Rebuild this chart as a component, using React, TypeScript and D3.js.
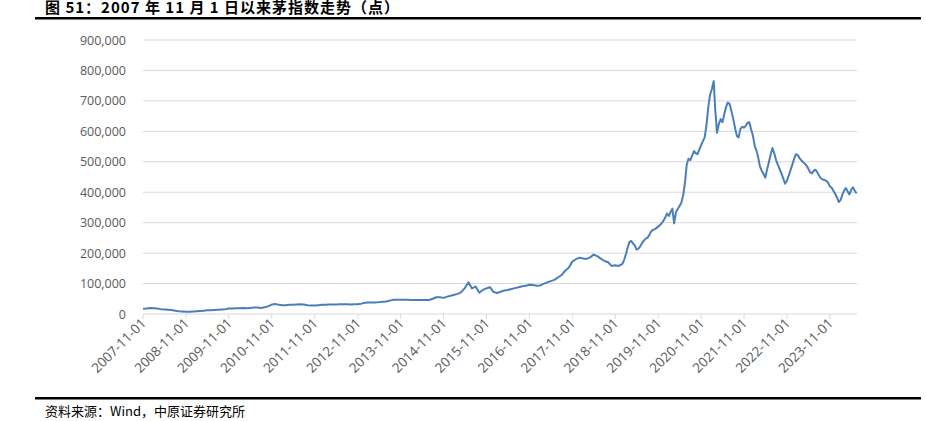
import * as d3 from "d3";

// monthly closes, 2007-11 .. 2018-12 (thousand points)
const monthlyStart = "2007-11-01";
const monthly2007to2012 = [
  17, 18, 20, 19, 18, 16, 15, 14, 13, 11, 9, 8,
  7, 7, 8, 9, 10, 11, 12, 12, 13, 14, 15, 16,
  18, 18, 19, 19, 20, 19, 20, 21, 21, 20, 22, 25,
  31, 33, 30, 29, 29, 30, 30, 31, 32, 31, 29, 28,
  28, 29, 30, 30, 31, 31, 31, 32, 32, 32, 31, 32,
];
const monthly2012to2018 = [
  32, 34, 37, 38, 38, 38, 39, 40, 41, 44, 47, 47,
  47, 47, 47, 46, 46, 46, 46, 46, 46, 50, 55, 55,
  53, 57, 60, 63, 66, 72, 85, 104, 84, 90, 70, 79,
  84, 88, 72, 69, 73, 77, 79, 82, 85, 88, 91, 93,
  96, 95, 93, 94, 99, 104, 108, 112, 120, 128, 142, 152,
  172, 180, 185, 182, 181, 186, 195, 190, 182, 174, 170, 158,
  160, 158,
];

// twice a month (1st and 16th), 2019-01 .. 2024-06
const halfMonthStart = "2019-01-01";
const halfMonthly2019to2020 = [
  165, 178, 198, 220, 236, 240, 232, 225, 212, 214, 222, 232,
  240, 247, 250, 258, 270, 276, 278, 282, 287, 292, 298, 306,
  318, 330, 322, 336, 346, 298, 335, 345, 355, 365, 390, 430,
  490, 510, 505, 520, 535, 528, 525, 540, 555, 568, 580, 620,
];
const halfMonthly2021to2022 = [
  680, 720, 740, 765, 670, 595, 625, 640, 630, 655, 680, 695,
  690, 668, 640, 612, 585, 580, 608, 615, 612, 618, 628, 630,
  605, 585, 550, 535, 515, 485, 470, 460, 448, 475, 500, 525,
  545, 528, 505, 490, 475, 460, 445, 428, 438, 455, 472, 490,
];
const halfMonthly2023to2024 = [
  510, 525, 522, 512, 506, 500, 494, 488, 478, 466, 462, 470,
  474, 466, 455, 446, 442, 440, 438, 432, 420, 415, 405, 395,
  382, 368, 375, 392, 405, 414, 402, 393, 408, 416, 404, 396,
];

const yTicks = [0, 100000, 200000, 300000, 400000, 500000, 600000, 700000, 800000, 900000];
const xTickLabels = [
  "2007-11-01", "2008-11-01", "2009-11-01", "2010-11-01", "2011-11-01", "2012-11-01",
  "2013-11-01", "2014-11-01", "2015-11-01", "2016-11-01", "2017-11-01", "2018-11-01",
  "2019-11-01", "2020-11-01", "2021-11-01", "2022-11-01", "2023-11-01",
];
const domainEnd = "2024-06-19";

const title = "图 51：2007 年 11 月 1 日以来茅指数走势（点）";
const source = "资料来源：Wind，中原证券研究所";

const width = 926;
const height = 421;
const plot = { left: 143, right: 857, top: 40, bottom: 314 };
const lineColor = "#4A7EBB";
const textColor = "#595959";

const parse = d3.timeParse("%Y-%m-%d");

function buildSeries() {
  const monthlyVals = [...monthly2007to2012, ...monthly2012to2018];
  const m0 = parse(monthlyStart)!;
  const pts: { date: Date; value: number }[] = monthlyVals.map((v, i) => ({
    date: d3.timeMonth.offset(m0, i),
    value: v * 1000,
  }));
  const halfVals = [...halfMonthly2019to2020, ...halfMonthly2021to2022, ...halfMonthly2023to2024];
  const h0 = parse(halfMonthStart)!;
  halfVals.forEach((v, i) => {
    const month = d3.timeMonth.offset(h0, Math.floor(i / 2));
    const date = i % 2 === 0 ? month : d3.timeDay.offset(month, 15);
    pts.push({ date, value: v * 1000 });
  });
  return pts;
}

export default function App() {
  const data = buildSeries();

  const x = d3
    .scaleTime()
    .domain([parse(monthlyStart)!, parse(domainEnd)!])
    .range([plot.left, plot.right]);
  const y = d3.scaleLinear().domain([0, 900000]).range([plot.bottom, plot.top]);

  const fmtNum = d3.format(",");

  const line = d3
    .line<{ date: Date; value: number }>()
    .x((d) => x(d.date))
    .y((d) => y(d.value));

  const font = "'Open Sans', 'Noto Sans', 'Liberation Sans', sans-serif";
  const cjk = "'Noto Sans CJK SC', sans-serif";

  return (
    <svg
      width={width}
      height={height}
      style={{ position: "absolute", left: 0, top: 0, background: "#fff" }}
    >
      <rect width={width} height={height} fill="#fff" />
      <text
        x={45}
        y={13}
        fontFamily={cjk}
        fontWeight="bold"
        fontSize={15}
        letterSpacing={1}
        fill="#000"
      >
        {title}
      </text>
      <rect x={35} y={17} width={886} height={2.5} fill="#000" />

      {yTicks.map((t) => (
        <g key={t}>
          <line
            x1={plot.left}
            x2={plot.right}
            y1={y(t)}
            y2={y(t)}
            stroke="#d9d9d9"
            strokeWidth={1}
          />
          <text
            x={126}
            y={y(t) + 4.5}
            textAnchor="end"
            fontFamily={font}
            fontSize={12.5}
            fill={textColor}
          >
            {fmtNum(t)}
          </text>
        </g>
      ))}

      {xTickLabels.map((label) => (
        <g key={label} transform={`translate(${x(parse(label)!)},${plot.bottom})`}>
          <line y1={0} y2={5} stroke="#d9d9d9" />
          <text
            transform="translate(4,10) rotate(-45)"
            textAnchor="end"
            fontFamily={font}
            fontSize={13.5}
            fill={textColor}
          >
            {label}
          </text>
        </g>
      ))}

      <path
        d={line(data) ?? ""}
        fill="none"
        stroke={lineColor}
        strokeWidth={2}
        strokeLinejoin="round"
      />

      <rect x={35} y={397} width={886} height={2.5} fill="#000" />
      <text x={45} y={416} fontFamily={cjk} fontSize={13} fill="#000">
        {source}
      </text>
    </svg>
  );
}
